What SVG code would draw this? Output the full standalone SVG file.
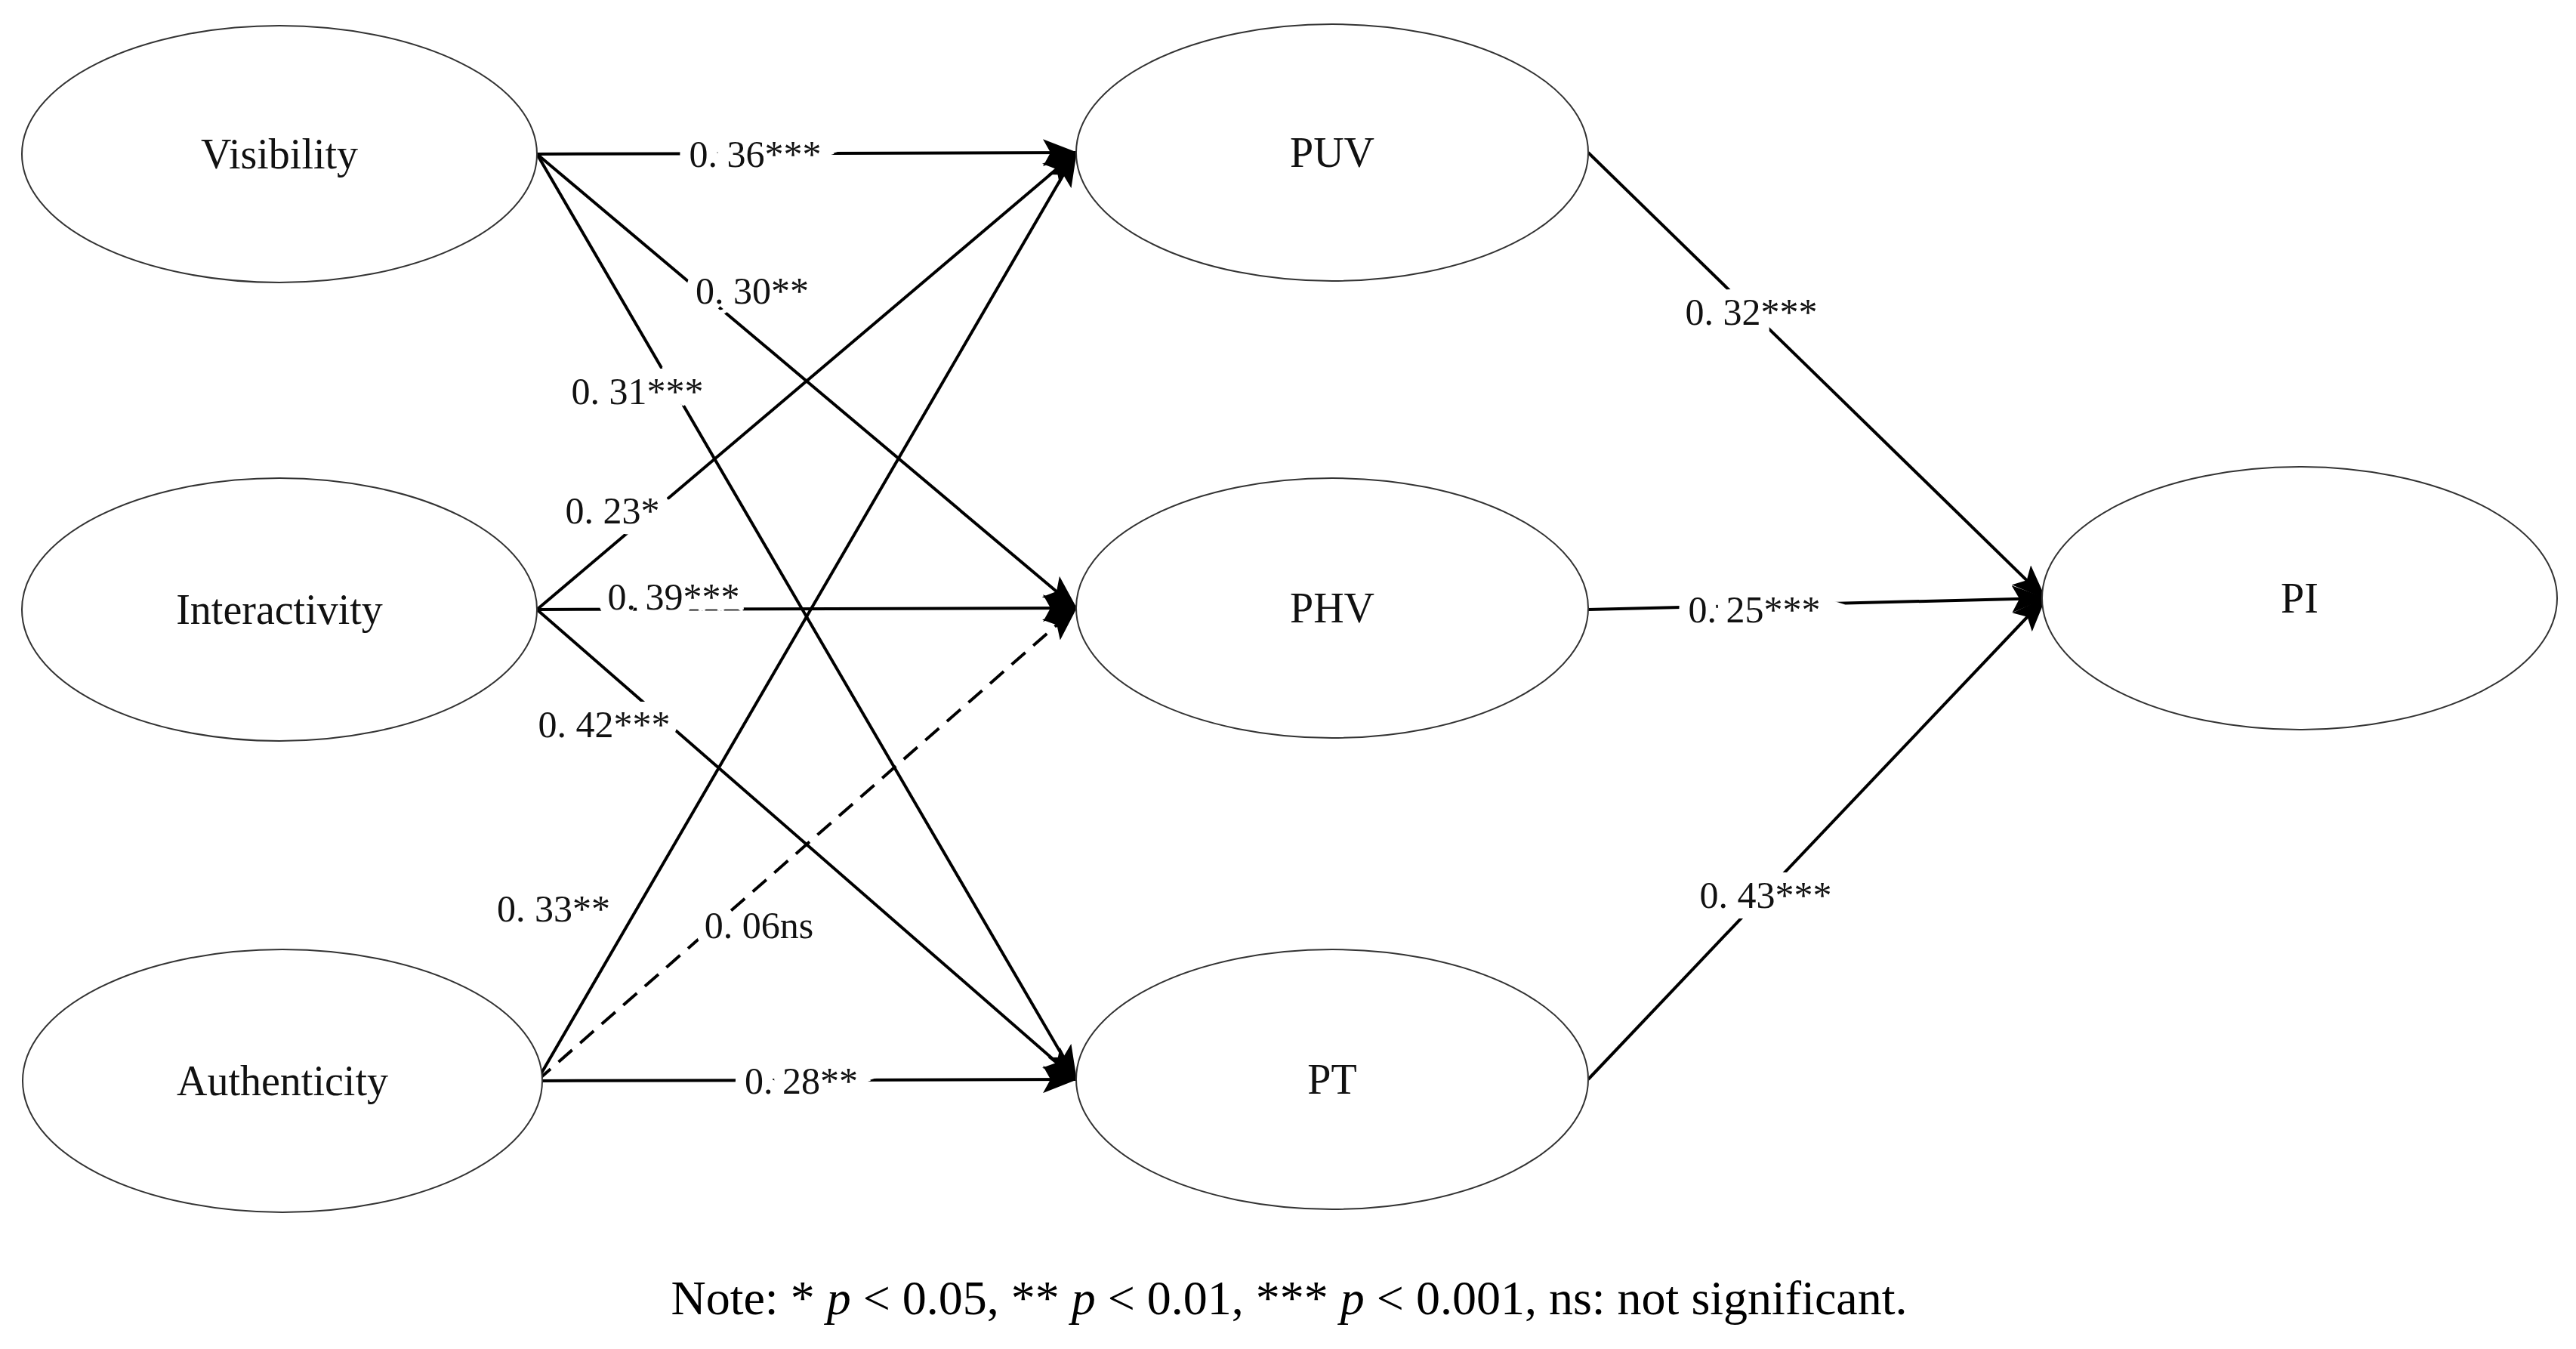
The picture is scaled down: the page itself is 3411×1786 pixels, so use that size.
<svg xmlns="http://www.w3.org/2000/svg" width="3411" height="1786" viewBox="0 0 3411 1786">
<defs>
<style>
.n{fill:#fff;stroke:#333;stroke-width:2}
.t{font-family:"Liberation Serif",serif;font-size:56px;text-anchor:middle;dominant-baseline:central;fill:#111}
.l{font-family:"Liberation Serif",serif;font-size:50px;text-anchor:middle;dominant-baseline:central;fill:#111;stroke:#fff;stroke-width:28px;paint-order:stroke}
.e{stroke:#000;stroke-width:4;fill:none;marker-end:url(#a)}
.d{stroke-dasharray:24 14}
</style>
<marker id="a" markerUnits="userSpaceOnUse" markerWidth="46" markerHeight="36" refX="44" refY="18" orient="auto"><path d="M0,0 L46,18 L0,36 L10,18 Z" fill="#000"/></marker>
</defs>
<rect width="3411" height="1786" fill="#fff"/>
<g id="connectors">
<line class="e" x1="711" y1="204" x2="1425" y2="202"/>
<line class="e" x1="711" y1="204" x2="1425" y2="805"/>
<line class="e" x1="711" y1="204" x2="1425" y2="1429"/>
<line class="e" x1="711" y1="807" x2="1425" y2="202"/>
<line class="e" x1="711" y1="807" x2="1425" y2="805"/>
<line class="e" x1="711" y1="807" x2="1425" y2="1429"/>
<line class="e" x1="711" y1="1431" x2="1425" y2="202"/>
<line class="e d" x1="711" y1="1431" x2="1425" y2="805"/>
<line class="e" x1="711" y1="1431" x2="1425" y2="1429"/>
<line class="e" x1="2103" y1="202" x2="2708" y2="792"/>
<line class="e" x1="2103" y1="807" x2="2708" y2="792"/>
<line class="e" x1="2103" y1="1429" x2="2708" y2="792"/>
<text class="l" x="1000" y="204">0. 36***</text>
<text class="l" x="996" y="385">0. 30**</text>
<text class="l" x="844" y="518">0. 31***</text>
<text class="l" x="811" y="676">0. 23*</text>
<text class="l" x="892" y="790">0. 39***</text>
<text class="l" x="800" y="959">0. 42***</text>
<text class="l" x="733" y="1203">0. 33**</text>
<text class="l" x="1005" y="1225">0. 06ns</text>
<text class="l" x="1061" y="1431">0. 28**</text>
<text class="l" x="2319" y="413">0. 32***</text>
<text class="l" x="2323" y="807">0. 25***</text>
<text class="l" x="2338" y="1185">0. 43***</text>
</g>
<g id="visibility"><ellipse class="n" cx="370" cy="204" rx="341" ry="170"/><text class="t" x="370" y="204">Visibility</text></g>
<g id="interactivity"><ellipse class="n" cx="370" cy="807" rx="341" ry="174"/><text class="t" x="370" y="807">Interactivity</text></g>
<g id="authenticity"><ellipse class="n" cx="374" cy="1431" rx="344" ry="174"/><text class="t" x="374" y="1431">Authenticity</text></g>
<g id="puv"><ellipse class="n" cx="1764" cy="202" rx="339" ry="170"/><text class="t" x="1764" y="202">PUV</text></g>
<g id="phv"><ellipse class="n" cx="1764" cy="805" rx="339" ry="172"/><text class="t" x="1764" y="805">PHV</text></g>
<g id="pt"><ellipse class="n" cx="1764" cy="1429" rx="339" ry="172"/><text class="t" x="1764" y="1429">PT</text></g>
<g id="pi"><ellipse class="n" cx="3045" cy="792" rx="341" ry="174"/><text class="t" x="3045" y="792">PI</text></g>
<text x="1707" y="1718" style="font-family:'Liberation Serif',serif;font-size:64px;text-anchor:middle;dominant-baseline:central;fill:#000">Note: * <tspan font-style="italic">p</tspan> &lt; 0.05, ** <tspan font-style="italic">p</tspan> &lt; 0.01, *** <tspan font-style="italic">p</tspan> &lt; 0.001, ns: not significant.</text>
</svg>
